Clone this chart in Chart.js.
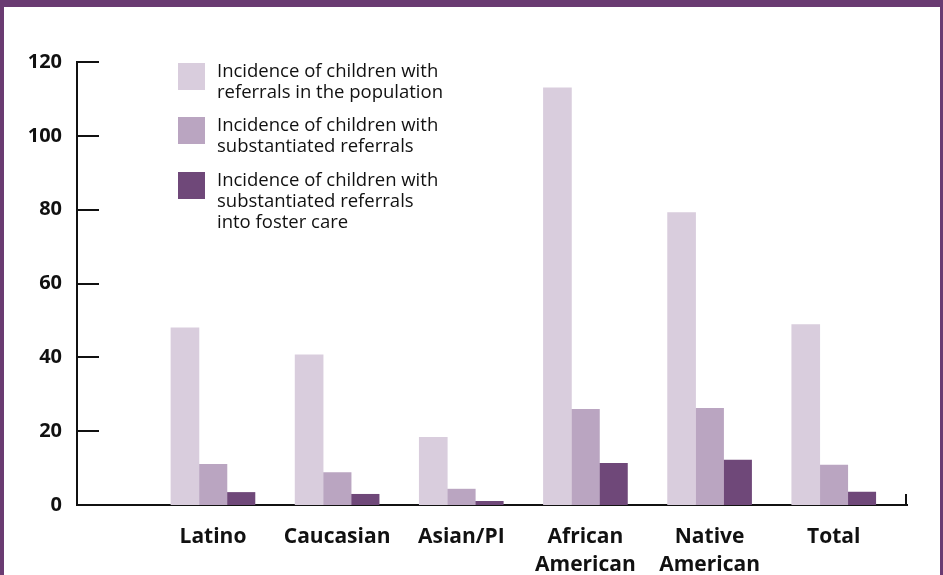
<!DOCTYPE html>
<html>
<head>
<meta charset="utf-8">
<script src="https://cdn.jsdelivr.net/npm/chart.js@4/dist/chart.umd.min.js"></script>
<style>
  html, body { margin: 0; padding: 0; background: #ffffff; }
  canvas { display: block; }
</style>
</head>
<body>
<canvas id="chart" width="943" height="575"></canvas>
<script>
// Groups along the horizontal axis (multi-line names are arrays of lines)
const categories = ['Latino', 'Caucasian', 'Asian/PI', ['African', 'American'], ['Native', 'American'], 'Total'];

// Incidence per group, one array per series
const referralsInPopulation = [48.0, 40.7, 18.3, 113.0, 79.2, 48.9];
const substantiatedReferrals = [11.0, 8.8, 4.3, 25.9, 26.2, 10.8];
const intoFosterCare = [3.4, 2.9, 1.0, 11.3, 12.2, 3.5];

// Series names as drawn in the key
const seriesLabels = [
  ['Incidence of children with', 'referrals in the population'],
  ['Incidence of children with', 'substantiated referrals'],
  ['Incidence of children with', 'substantiated referrals', 'into foster care']
];

// Vertical axis ticks
const yTicks = [0, 20, 40, 60, 80, 100, 120];

const colors = ['#d9cddd', '#baa5c1', '#6f4879'];
const frameColor = '#6a3b72';
const ink = '#111111';

const toPoints = values => values.map((v, i) => ({ x: i, y: v }));

// Purple frame around the figure
const framePlugin = {
  id: 'frame',
  beforeDraw(chart) {
    const { ctx, width, height } = chart;
    ctx.save();
    ctx.fillStyle = '#ffffff';
    ctx.fillRect(0, 0, width, height);
    ctx.fillStyle = frameColor;
    ctx.fillRect(0, 0, width, 7);
    ctx.fillRect(0, 0, 4, height);
    ctx.fillRect(width - 3, 0, 3, height);
    ctx.restore();
  }
};

// Tick marks pointing into the plot, plus the small end stop on the base line
const axisMarksPlugin = {
  id: 'axisMarks',
  afterDatasetsDraw(chart) {
    const { ctx, chartArea, scales } = chart;
    const y = scales.y;
    ctx.save();
    ctx.strokeStyle = ink;
    ctx.lineWidth = 2;
    ctx.beginPath();
    y.ticks.forEach(t => {
      const py = Math.round(y.getPixelForValue(t.value));
      ctx.moveTo(chartArea.left, py);
      ctx.lineTo(chartArea.left + 22, py);
    });
    ctx.moveTo(chartArea.right - 1, chartArea.bottom);
    ctx.lineTo(chartArea.right - 1, chartArea.bottom - 11);
    ctx.stroke();
    ctx.restore();
  }
};

// Key with wrapped series names
const keyPlugin = {
  id: 'key',
  afterDraw(chart) {
    const { ctx } = chart;
    const boxX = 178, boxSize = 27, textX = 217, lineH = 21;
    const tops = [63, 117, 172];
    ctx.save();
    ctx.font = '18.5px "Open Sans", "Noto Sans", sans-serif';
    ctx.textAlign = 'left';
    ctx.textBaseline = 'middle';
    chart.data.datasets.forEach((ds, i) => {
      const top = tops[i];
      ctx.fillStyle = ds.backgroundColor;
      ctx.fillRect(boxX, top, boxSize, boxSize);
      ctx.fillStyle = ink;
      ds.label.forEach((line, j) => {
        ctx.fillText(line, textX, top + 9 + j * lineH);
      });
    });
    ctx.restore();
  }
};

new Chart(document.getElementById('chart'), {
  type: 'bar',
  data: {
    datasets: [
      { label: seriesLabels[0], data: toPoints(referralsInPopulation), backgroundColor: colors[0] },
      { label: seriesLabels[1], data: toPoints(substantiatedReferrals), backgroundColor: colors[1] },
      { label: seriesLabels[2], data: toPoints(intoFosterCare), backgroundColor: colors[2] }
    ]
  },
  options: {
    responsive: false,
    devicePixelRatio: 1,
    animation: false,
    events: [],
    barThickness: 28,
    borderWidth: 0,
    layout: { padding: { top: 62, left: 0, right: 36, bottom: 0 } },
    plugins: {
      legend: { display: false },
      tooltip: { enabled: false }
    },
    scales: {
      x: {
        type: 'linear',
        offset: false,
        min: -1.095,
        max: 5.59,
        afterBuildTicks: scale => { scale.ticks = categories.map((_, i) => ({ value: i })); },
        afterFit: scale => { scale.height = 70; },
        grid: { display: false, drawTicks: false, offset: false },
        border: { display: true, color: ink, width: 2 },
        ticks: {
          autoSkip: false,
          maxRotation: 0,
          padding: 18,
          color: ink,
          font: { family: '"Open Sans", "Noto Sans", sans-serif', size: 21, weight: 'bold', lineHeight: 1.33 },
          callback: value => categories[value]
        }
      },
      y: {
        min: 0,
        max: 120,
        afterBuildTicks: scale => { scale.ticks = yTicks.map(v => ({ value: v })); },
        afterFit: scale => { scale.width = 77; },
        grid: { display: false, drawTicks: false },
        border: { display: true, color: ink, width: 2 },
        ticks: {
          padding: 15,
          color: ink,
          font: { family: '"Open Sans", "Noto Sans", sans-serif', size: 20, weight: 'bold' }
        }
      }
    }
  },
  plugins: [framePlugin, axisMarksPlugin, keyPlugin]
});
</script>
</body>
</html>
